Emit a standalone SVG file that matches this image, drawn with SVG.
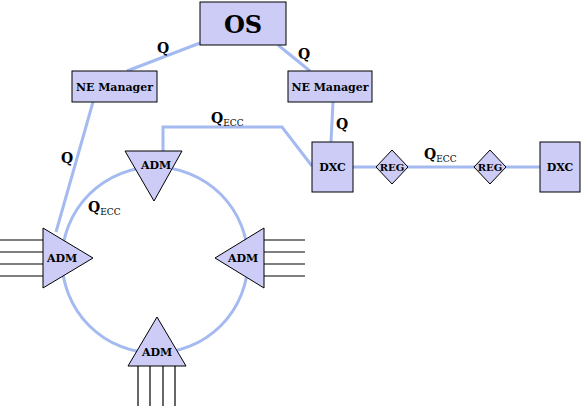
<svg xmlns="http://www.w3.org/2000/svg" width="582" height="406" viewBox="0 0 582 406">
<style>
.node{fill:#ccccf6;stroke:#000;stroke-width:1}
.conn{fill:none;stroke:#a4baf0;stroke-width:3}
.trib{stroke:#000;stroke-width:1.2}
.t{font-weight:bold;fill:#000;text-anchor:middle}
.lbl{font-weight:bold;font-size:14px;fill:#000}
.sub{font-weight:normal;font-size:9px}
</style>
<rect width="582" height="406" fill="#fff"/>
<g id="connectors" font-family="'DejaVu Serif', 'Liberation Serif', serif">
<circle class="conn" cx="155" cy="260" r="93"/>
<line class="conn" x1="127" y1="71" x2="200" y2="43"/>
<line class="conn" x1="278" y1="45" x2="310" y2="71"/>
<line class="conn" x1="93" y1="102" x2="56" y2="232"/>
<line class="conn" x1="333" y1="102" x2="331" y2="142"/>
<polyline class="conn" points="163,152 163,127 282,127 312,166"/>
<line class="conn" x1="353" y1="167" x2="540" y2="167"/>
<g class="trib">
<line x1="0" y1="240" x2="43" y2="240"/><line x1="0" y1="252" x2="43" y2="252"/><line x1="0" y1="264" x2="43" y2="264"/><line x1="0" y1="276" x2="43" y2="276"/>
<line x1="264" y1="240" x2="305" y2="240"/><line x1="264" y1="252" x2="305" y2="252"/><line x1="264" y1="264" x2="305" y2="264"/><line x1="264" y1="276" x2="305" y2="276"/>
<line x1="138" y1="366" x2="138" y2="406"/><line x1="150" y1="366" x2="150" y2="406"/><line x1="163" y1="366" x2="163" y2="406"/><line x1="175" y1="366" x2="175" y2="406"/>
</g>
<text class="lbl" x="157" y="53">Q</text>
<text class="lbl" x="298" y="59">Q</text>
<text class="lbl" x="61" y="163">Q</text>
<text class="lbl" x="336" y="129">Q</text>
<text class="lbl" x="211" y="123">Q<tspan class="sub" dy="3">ECC</tspan></text>
<text class="lbl" x="88" y="212">Q<tspan class="sub" dy="3">ECC</tspan></text>
<text class="lbl" x="424" y="159">Q<tspan class="sub" dy="3">ECC</tspan></text>
</g>
<g font-family="'DejaVu Serif', 'Liberation Serif', serif">
<g id="os"><rect class="node" x="200" y="2" width="86" height="43"/><text class="t" x="243" y="33" font-size="24">OS</text></g>
<g id="nem1"><rect class="node" x="72" y="71" width="85" height="31"/><text class="t" x="114.5" y="91" font-size="11">NE Manager</text></g>
<g id="nem2"><rect class="node" x="288" y="71" width="84" height="31"/><text class="t" x="330" y="91" font-size="11">NE Manager</text></g>
<g id="dxc1"><rect class="node" x="312" y="142" width="41" height="50"/><text class="t" x="332.5" y="171" font-size="11">DXC</text></g>
<g id="dxc2"><rect class="node" x="540" y="142" width="40" height="50"/><text class="t" x="560" y="171" font-size="11">DXC</text></g>
<g id="reg1"><polygon class="node" points="392,150 408,167 392,184 376,167"/><text class="t" x="392" y="171" font-size="10">REG</text></g>
<g id="reg2"><polygon class="node" points="490,150 506,167 490,184 474,167"/><text class="t" x="490" y="171" font-size="10">REG</text></g>
<g id="adm-top"><polygon class="node" points="125,151 182,151 154,201"/><text class="t" x="156" y="169" font-size="11">ADM</text></g>
<g id="adm-left"><polygon class="node" points="43,228 93,258 43,288"/><text class="t" x="62" y="262" font-size="11">ADM</text></g>
<g id="adm-right"><polygon class="node" points="264,228 264,288 215,258"/><text class="t" x="243" y="262" font-size="11">ADM</text></g>
<g id="adm-bottom"><polygon class="node" points="157,317 186,366 128,366"/><text class="t" x="157" y="356" font-size="11">ADM</text></g>
</g>
</svg>
